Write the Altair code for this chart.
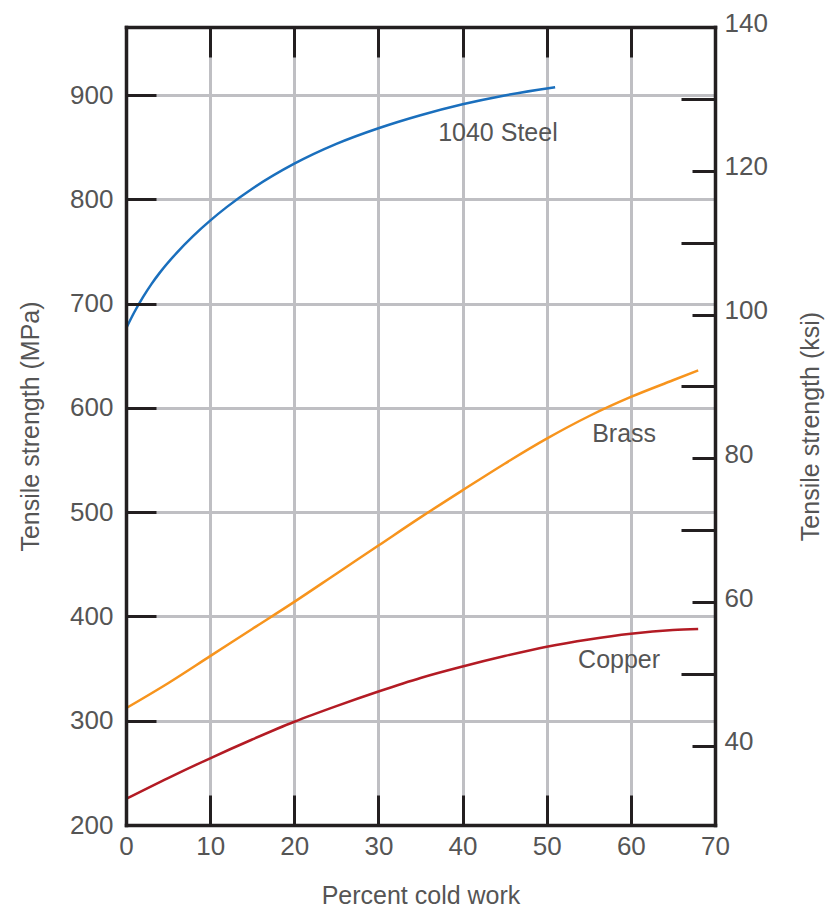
import altair as alt
import pandas as pd

# ---------------- data ----------------
steel_pct = [0, 1, 2, 3, 4, 6, 8, 10, 12, 15, 20, 25, 30, 35, 40, 45, 51]
steel_mpa = [676, 692, 706, 718.5, 729.5, 748.5, 765, 779.6, 792.8, 810.2, 834.2, 853.2,
             868.2, 880.7, 891.2, 899.7, 907.5]

brass_pct = [0, 5, 10, 15, 20, 25, 30, 35, 40, 45, 50, 55, 60, 65, 68]
brass_mpa = [312, 336, 362, 388, 414, 441, 468, 495, 521, 546.5, 570.5, 592, 610.5, 626.5, 636]

copper_pct = [0, 5, 10, 15, 20, 25, 30, 35, 40, 45, 50, 55, 60, 65, 68]
copper_mpa = [225, 245, 264, 282, 299, 314, 328, 341, 352, 362, 371, 378, 383.5, 387, 388]

materials = ["1040 Steel", "Brass", "Copper"]
colors = ["#1a6fbd", "#f7941d", "#b31b24"]

label_text = ["1040 Steel", "Brass", "Copper"]
label_pct = [44.2, 59.2, 58.6]
label_mpa = [864, 575, 358]

x_ticks = [0, 10, 20, 30, 40, 50, 60, 70]
x_inner = [10, 20, 30, 40, 50, 60]
mpa_ticks = [200, 300, 400, 500, 600, 700, 800, 900]
mpa_inner = [300, 400, 500, 600, 700, 800, 900]
ksi_labels = [40, 60, 80, 100, 120, 140]
ksi_odd = [50, 70, 90, 110, 130]

MPA_PER_KSI = 6.895
Y_MIN = 200
Y_MAX = 140 * MPA_PER_KSI

rows = []
for name, xs_, ys_ in [("1040 Steel", steel_pct, steel_mpa),
                       ("Brass", brass_pct, brass_mpa),
                       ("Copper", copper_pct, copper_mpa)]:
    for a, b in zip(xs_, ys_):
        rows.append({"material": name, "pct": a, "mpa": b, "ksi": b / MPA_PER_KSI})
df = pd.DataFrame(rows)
lab = pd.DataFrame({"text": label_text, "pct": label_pct, "mpa": label_mpa})

# ---------------- style ----------------
W, H = 589, 798
FONT = "Liberation Sans"
TXT = "#555555"
INK = "#231f20"
GRID = "#bfbfc3"

def xs():
    return alt.Scale(domain=[0, 70], nice=False, zero=False)

def ys():
    return alt.Scale(domain=[Y_MIN, Y_MAX], nice=False, zero=False)

def ks():
    return alt.Scale(domain=[Y_MIN / MPA_PER_KSI, 140], nice=False, zero=False)

# Layer A: curves + grid
lines = alt.Chart(df).mark_line(strokeWidth=2.5, interpolate="monotone").encode(
    x=alt.X("pct:Q", scale=xs(), title=None,
            axis=alt.Axis(orient="bottom", values=x_inner, grid=True, domain=False,
                          labels=False, ticks=False, zindex=0)),
    y=alt.Y("mpa:Q", scale=ys(), title=None,
            axis=alt.Axis(orient="left", values=mpa_inner, grid=True, domain=False,
                          labels=False, ticks=False, zindex=0)),
    color=alt.Color("material:N", scale=alt.Scale(domain=materials, range=colors), legend=None),
)

def hidden(xfield, yfield, xscale, yscale, xaxis, yaxis):
    return alt.Chart(df).mark_point(opacity=0).encode(
        x=alt.X(f"{xfield}:Q", scale=xscale, axis=xaxis),
        y=alt.Y(f"{yfield}:Q", scale=yscale, axis=yaxis),
    )

# Layer B: bottom & left main axes (frame, labels, titles)
main_axes = hidden(
    "pct", "mpa", xs(), ys(),
    alt.Axis(orient="bottom", values=x_ticks, grid=False, ticks=False, domain=True,
             labelPadding=8, title="Percent cold work", titleY=78,
             titleBaseline="alphabetic", titleAlign="center", titleX=W / 2, zindex=1),
    alt.Axis(orient="left", values=mpa_ticks, grid=False, ticks=False, domain=True,
             labelPadding=13, labelAlign="right", labelBaseline="middle",
             title="Tensile strength (MPa)", titleAngle=270, titleX=-96, titleY=H / 2,
             titleAlign="center", titleBaseline="middle", zindex=1),
)

# Layer C: inward ticks on bottom and left
inner_bl = hidden(
    "pct", "mpa", xs(), ys(),
    alt.Axis(orient="bottom", values=x_inner, grid=False, ticks=True, tickSize=30,
             offset=-30, domain=False, labels=False, title=None, zindex=1),
    alt.Axis(orient="left", values=mpa_inner, grid=False, ticks=True, tickSize=30,
             offset=-30, domain=False, labels=False, title=None, zindex=1),
)

# Layer D: top frame + right ksi axis
right_main = hidden(
    "pct", "ksi", xs(), ks(),
    alt.Axis(orient="top", values=x_ticks, grid=False, ticks=False, domain=True,
             labels=False, title=None, zindex=1),
    alt.Axis(orient="right", values=ksi_labels, grid=False, ticks=False, domain=True,
             labelPadding=9, labelAlign="left", labelBaseline="middle", labelOffset=-4,
             title="Tensile strength (ksi)", titleAngle=270, titleX=95, titleY=H / 2,
             titleAlign="center", titleBaseline="middle", zindex=1),
)

# Layer E: top inward ticks + short right ticks
inner_tr = hidden(
    "pct", "ksi", xs(), ks(),
    alt.Axis(orient="top", values=x_inner, grid=False, ticks=True, tickSize=30,
             offset=-30, domain=False, labels=False, title=None, zindex=1),
    alt.Axis(orient="right", values=ksi_labels, grid=False, ticks=True, tickSize=23,
             offset=-23, domain=False, labels=False, title=None, zindex=1),
)

# Layer F: long right ticks
inner_r2 = hidden(
    "pct", "ksi", xs(), ks(),
    None,
    alt.Axis(orient="right", values=ksi_odd, grid=False, ticks=True, tickSize=34,
             offset=-34, domain=False, labels=False, title=None, zindex=1),
)

# Layer G: curve labels
texts = alt.Chart(lab).mark_text(font=FONT, fontSize=25, color=TXT, align="center",
                                 baseline="middle").encode(
    x=alt.X("pct:Q", scale=xs(), axis=None),
    y=alt.Y("mpa:Q", scale=ys(), axis=None),
    text="text:N",
)

chart = alt.layer(lines, main_axes, inner_bl, right_main, inner_tr, inner_r2, texts).resolve_scale(
    x="independent", y="independent"
).resolve_axis(
    x="independent", y="independent"
).properties(
    width=W, height=H,
    padding={"left": 126, "top": 27, "right": 110, "bottom": 85},
    autosize=alt.AutoSizeParams(type="none"),
).configure(
    font=FONT,
).configure_view(
    stroke=None,
).configure_axis(
    labelFont=FONT, labelFontSize=26, labelColor=TXT,
    titleFont=FONT, titleFontSize=25, titleColor=TXT, titleFontWeight="normal",
    tickColor=INK, tickWidth=3, domainColor=INK, domainWidth=3.5, domainCap="square",
    gridColor=GRID, gridWidth=3, gridOpacity=1,
    labelFlush=False, labelOverlap=False, labelBound=False,
)

chart.save("out.html", embed_options={"renderer": "svg", "actions": False})
